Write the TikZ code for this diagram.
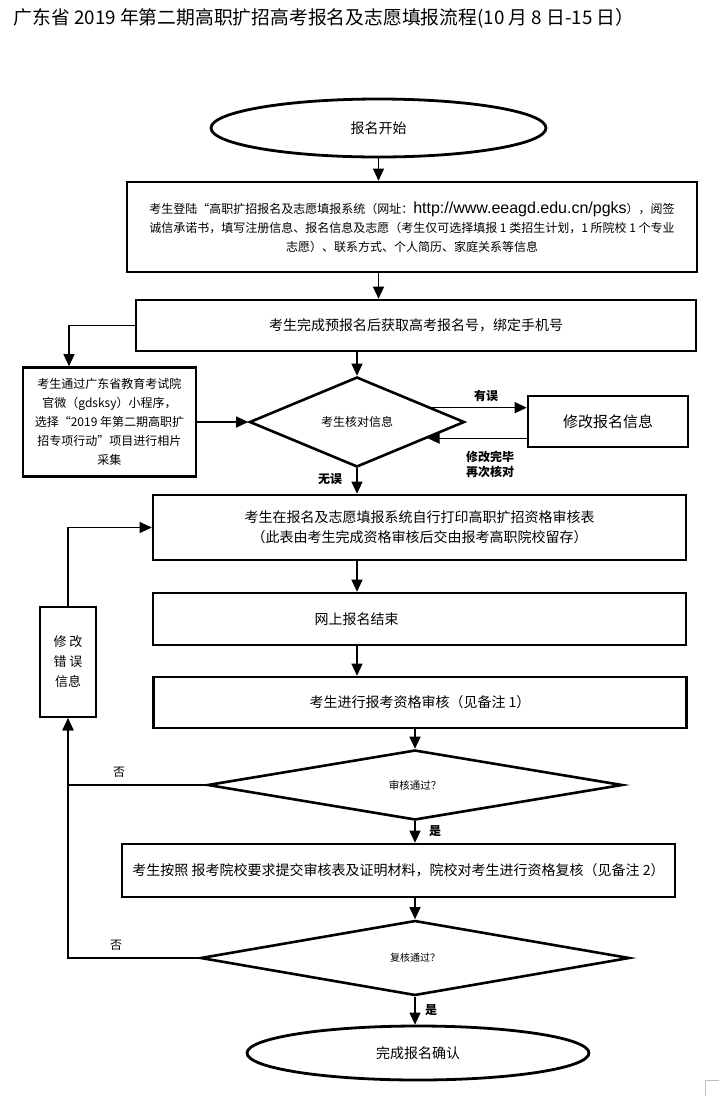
\documentclass[tikz,border=0pt]{standalone}
\usepackage{fontspec}
\setmainfont{Noto Sans CJK SC}
\newfontfamily\urlfont{Liberation Sans}
\usetikzlibrary{shapes.geometric,arrows.meta,calc}

\begin{document}
\begin{tikzpicture}[x=1pt,y=-1pt,
  box/.style={draw,line width=2.6pt,align=center,inner sep=0pt},
  dia/.style={draw,diamond,line width=2.6pt,inner sep=0pt,aspect=3},
  oval/.style={draw,ellipse,line width=2.8pt,inner sep=0pt},
  arr/.style={line width=1.1pt,-{Triangle[length=12pt,width=11pt]}},
  lab/.style={font=\bfseries\fontsize{12}{15}\selectfont,align=center},
  txt/.style={font=\fontsize{14}{20}\selectfont}]
\useasboundingbox (0,0) rectangle (719,1096);

\node[anchor=west,font=\fontsize{18.8}{20}\selectfont] (title) at (10,18) {广东省 2019 年第二期高职扩招高考报名及志愿填报流程(10 月 8 日-15 日）};

\node[oval,txt,minimum width=335pt,minimum height=58pt] (start) at (378.5,128) {报名开始};
\node[box,minimum width=570pt,minimum height=90pt,font=\fontsize{12}{19}\selectfont] (login) at (412,227)
  {考生登陆“高职扩招报名及志愿填报系统（网址：{\urlfont\fontsize{16}{19}\selectfont http://www.eeagd.edu.cn/pgks}），阅签\\
   诚信承诺书，填写注册信息、报名信息及志愿（考生仅可选择填报 1 类招生计划，1 所院校 1 个专业\\
   志愿）、联系方式、个人简历、家庭关系等信息};
\node[box,txt,minimum width=560pt,minimum height=51pt] (regnum) at (416,325.5) {考生完成预报名后获取高考报名号，绑定手机号};
\node[box,minimum width=173pt,minimum height=109pt,font=\fontsize{12}{19}\selectfont] (photo) at (109.5,422)
  {考生通过广东省教育考试院\\官微（gdsksy）小程序，\\选择“2019 年第二期高职扩\\招专项行动”项目进行相片\\采集};
\node[dia,minimum width=215pt,minimum height=90pt,font=\fontsize{12}{14}\selectfont] (check) at (357,422) {考生核对信息};
\node[box,minimum width=160pt,minimum height=51pt,font=\fontsize{15}{18}\selectfont] (fix) at (608,421.5) {修改报名信息};
\node[box,txt,minimum width=533pt,minimum height=65pt] (print) at (419.5,527.5)
  {考生在报名及志愿填报系统自行打印高职扩招资格审核表\\（此表由考生完成资格审核后交由报考高职院校留存）};
\node[box,txt,minimum width=533pt,minimum height=52pt] (done) at (419.5,619) {网上报名结束\hspace{126pt}};
\node[box,txt,minimum width=533pt,minimum height=51pt] (audit) at (420,702.5) {考生进行报考资格审核（见备注 1）};
\node[box,minimum width=56pt,minimum height=110pt,font=\fontsize{13}{20}\selectfont] (redo) at (68,662) {修 改\\错 误\\信息};
\node[dia,minimum width=415pt,minimum height=70pt,font=\fontsize{10.5}{12}\selectfont] (pass1) at (415,785) {审核通过？};
\node[box,txt,minimum width=553pt,minimum height=53pt] (submit) at (398.5,870.5)
  {考生按照 报考院校要求提交审核表及证明材料，院校对考生进行资格复核（见备注 2）};
\node[dia,minimum width=429pt,minimum height=75pt,font=\fontsize{10}{12}\selectfont] (pass2) at (415,958) {复核通过？};
\node[oval,txt,minimum width=342pt,minimum height=54pt] (finish) at (418,1053) {完成报名确认};

\coordinate (p1) at ($(check.east)!0.31!(check.north)$);
\coordinate (p2) at ($(check.east)!0.35!(check.south)$);

\draw[arr] (start.south) -- (start.south |- login.north);
\draw[arr] (login.south -| start.south) -- (regnum.north -| start.south);
\draw[arr] (regnum.south -| check.north) -- (check.north);
\draw[arr] (regnum.west) -| ([xshift=-40.5pt]photo.north);
\draw[arr] (photo.east) -- (check.west);
\draw[arr] (p1) -- (p1 -| fix.west);
\draw[arr] (fix.west |- p2) -- (p2);
\draw[arr] (check.south) -- (check.south |- print.north);
\draw[arr] (print.south -| check.south) -- (done.north -| check.south);
\draw[arr] (done.south -| check.south) -- (audit.north -| check.south);
\draw[arr] (audit.south -| pass1.north) -- (pass1.north);
\draw[arr] (pass1.west) -| (redo.south);
\draw[arr] (pass2.west) -| (redo.south);
\draw[arr] (redo.north) |- (print.west);
\draw[arr] (pass1.south) -- (submit.north -| pass1.south);
\draw[arr] (submit.south -| pass2.north) -- (pass2.north);
\draw[arr] (pass2.south) -- (pass2.south |- finish.north);

\node[lab] (wrong) at (486,396) {有误};
\node[lab] (again) at (490,464) {修改完毕\\再次核对};
\node[lab] (right) at (330,479) {无误};
\node[font=\fontsize{12}{15}\selectfont] (no1) at (119,772) {否};
\node[lab] (yes1) at (435,831) {是};
\node[font=\fontsize{12}{15}\selectfont] (no2) at (116,945) {否};
\node[lab] (yes2) at (431,1010) {是};

\draw[gray!50,line width=0.8pt] (719,1080) -- (705,1080) -- (705,1096);
\end{tikzpicture}
\end{document}
